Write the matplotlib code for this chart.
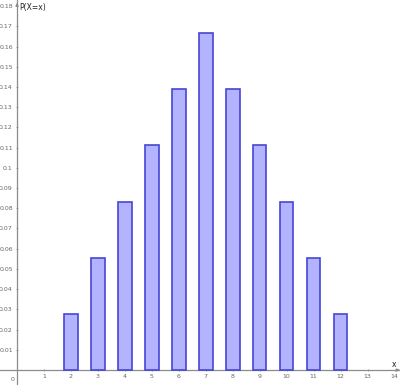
import matplotlib
matplotlib.use("Agg")
import matplotlib.pyplot as plt
import numpy as np

x_values = [2, 3, 4, 5, 6, 7, 8, 9, 10, 11, 12]
probabilities = [1/36, 2/36, 3/36, 4/36, 5/36, 6/36, 5/36, 4/36, 3/36, 2/36, 1/36]
x_ticks = list(range(1, 15))
y_ticks = [round(0.01 * i, 2) for i in range(1, 19)]

fig = plt.figure(figsize=(4.0, 3.85), dpi=100)
ax = fig.add_axes([0, 0, 1, 1])
ax.set_xlim(-0.63, 14.2)
ax.set_ylim(-0.0074, 0.183)

ax.bar(x_values, probabilities, width=0.5, color="#b3b3ff", edgecolor="#4646d6", linewidth=1.2, zorder=3)

axis_color = "#8c8c8c"
for s in ["top", "right"]:
    ax.spines[s].set_visible(False)
ax.spines["left"].set_position(("data", 0))
ax.spines["bottom"].set_position(("data", 0))
ax.spines["left"].set_color(axis_color)
ax.spines["bottom"].set_color(axis_color)
ax.spines["left"].set_linewidth(0.9)
ax.spines["bottom"].set_linewidth(0.9)

ax.set_xticks(x_ticks)
ax.set_xticklabels([str(t) for t in x_ticks])
ax.set_yticks(y_ticks)
ax.set_yticklabels([f"{t:g}" for t in y_ticks])
ax.tick_params(axis="both", labelsize=4.5, colors=axis_color, labelcolor="#666666",
               length=2, width=0.6, direction="inout", pad=2)

ax.text(-0.08, -0.0045, "0", fontsize=4.5, color="#666666", ha="right", va="center")

# axis arrows
ax.annotate("", xy=(0, 0.183), xytext=(0, 0.179),
            arrowprops=dict(arrowstyle="-|>", color=axis_color, lw=0.8, mutation_scale=4))
ax.annotate("", xy=(14.2, 0), xytext=(14.0, 0),
            arrowprops=dict(arrowstyle="-|>", color=axis_color, lw=0.8, mutation_scale=4))

ax.text(0.1, 0.1795, "P(X=x)", fontsize=5.5, color="#222222", ha="left", va="center")
ax.text(13.98, 0.0004, "x", fontsize=5.5, color="#222222", ha="center", va="bottom")

fig.savefig("out.png", dpi=100)
